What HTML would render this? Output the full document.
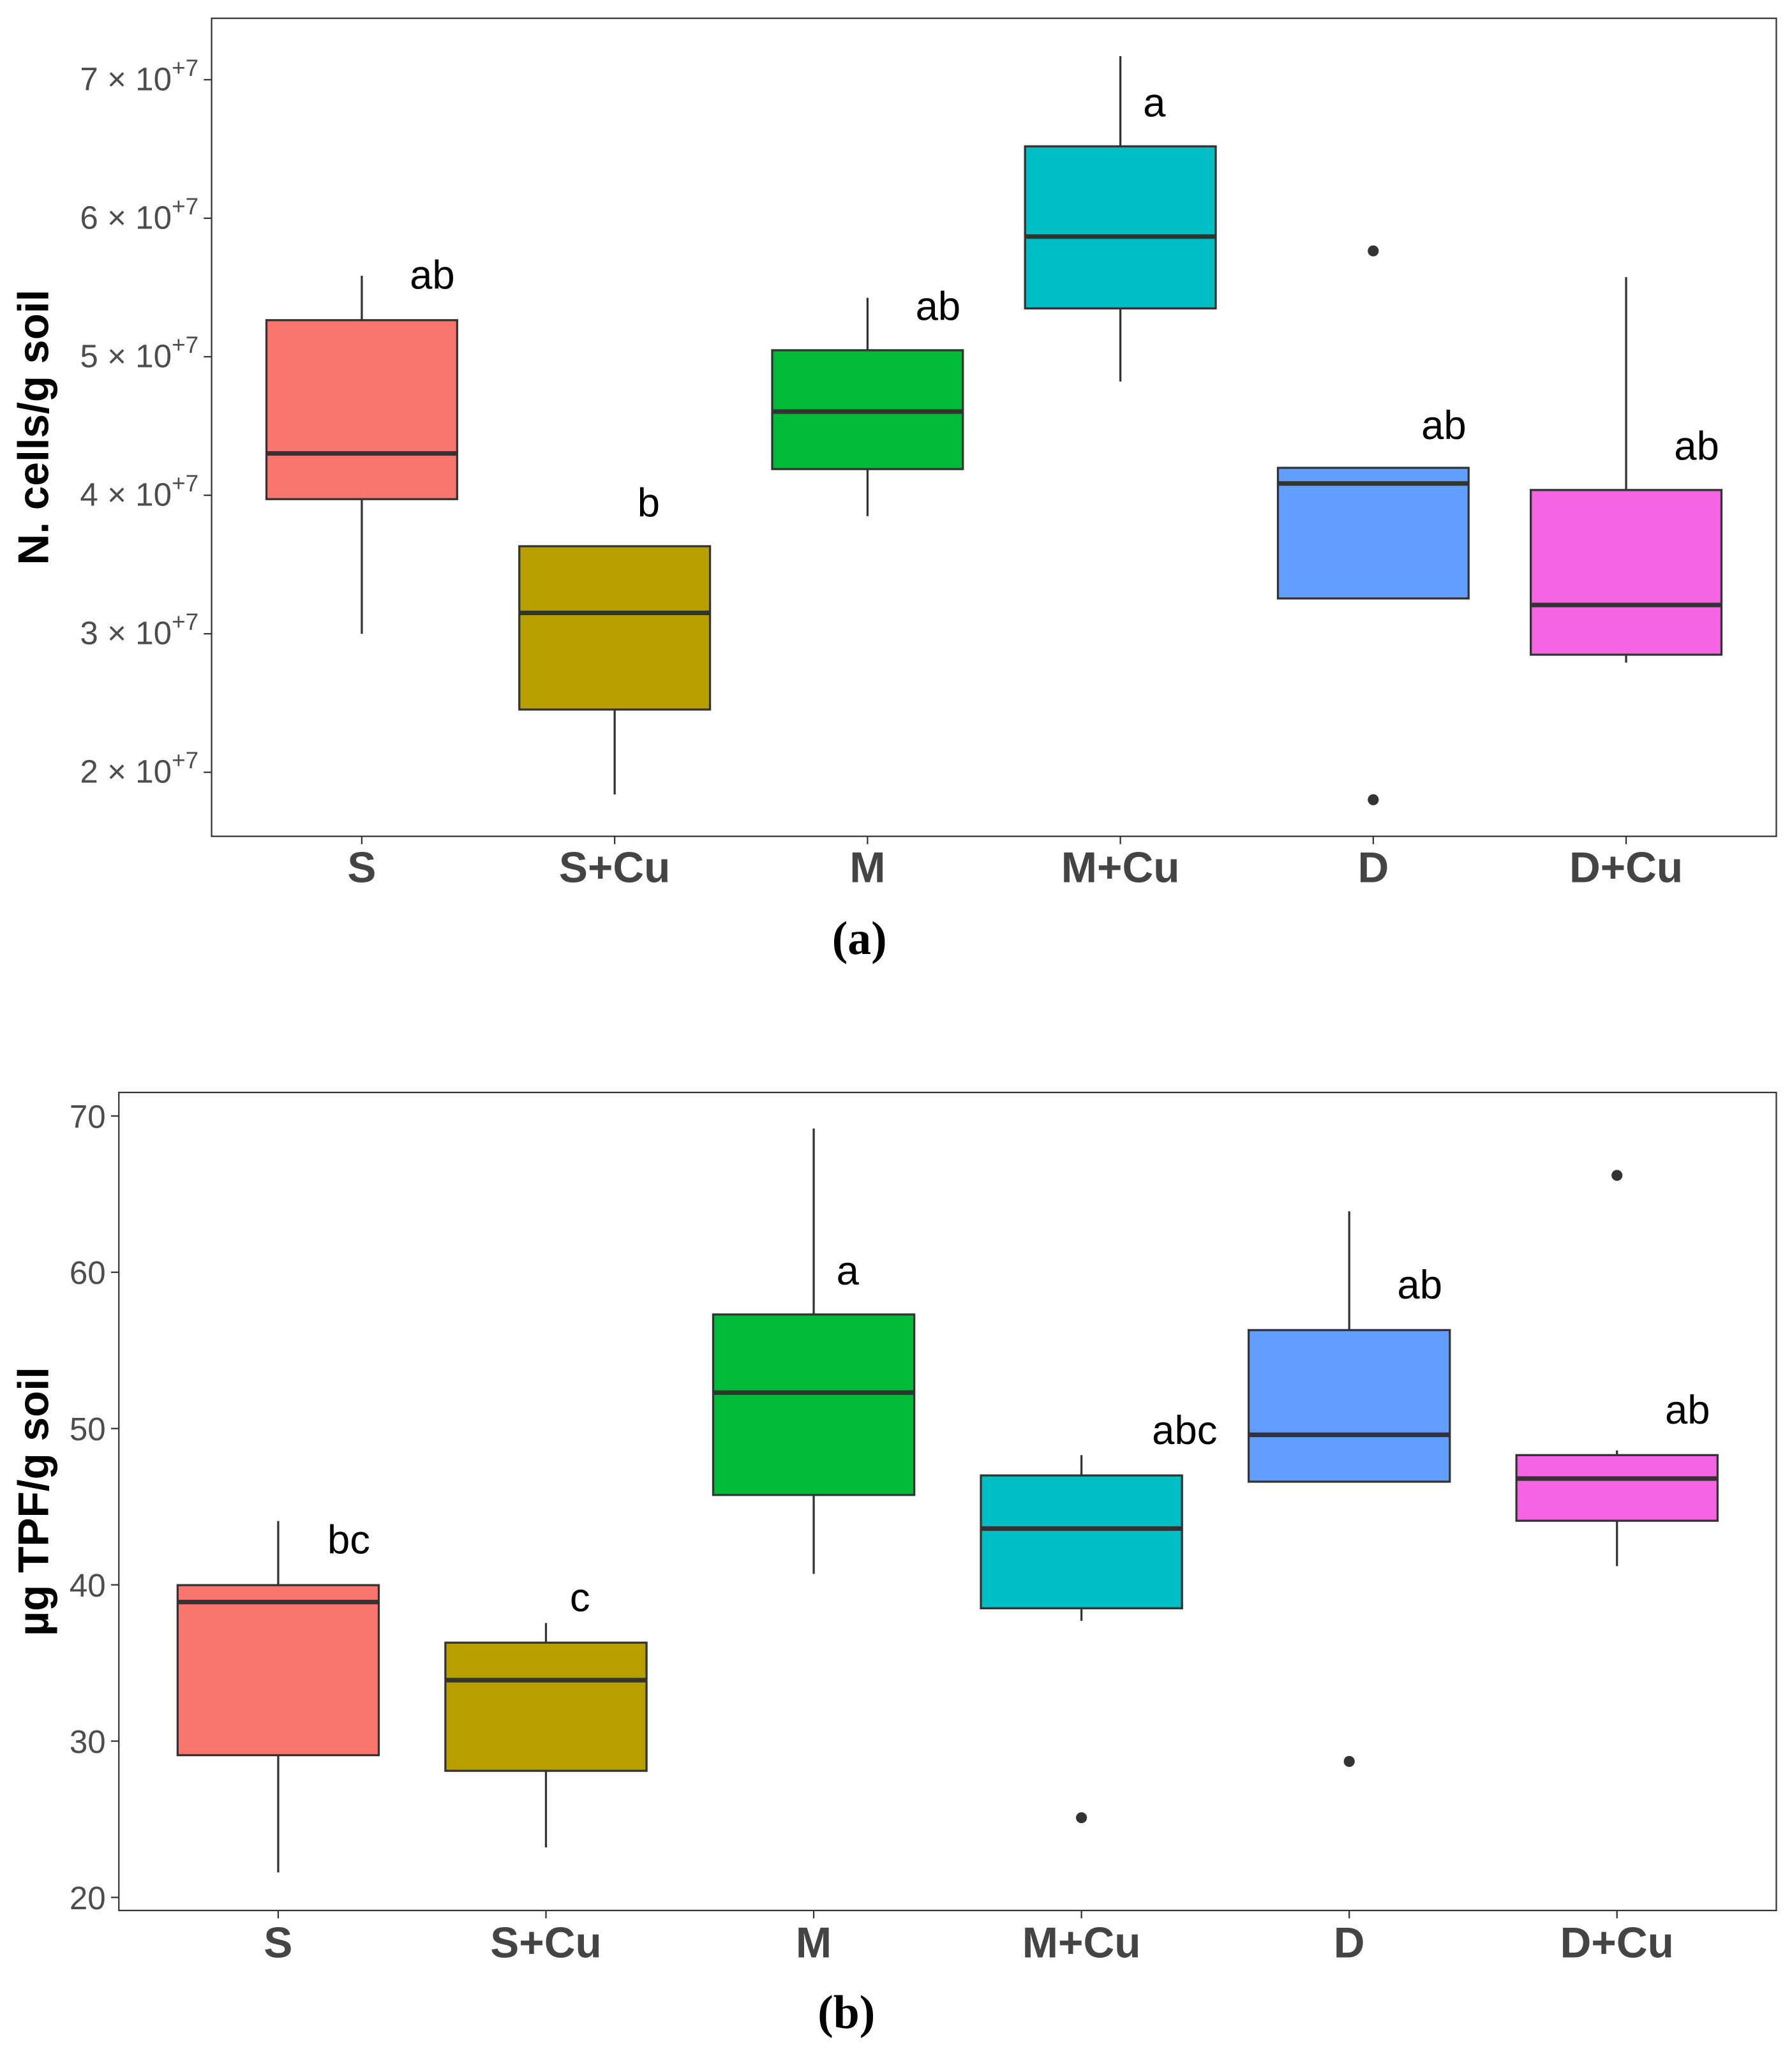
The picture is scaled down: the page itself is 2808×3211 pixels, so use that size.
<!DOCTYPE html>
<html><head><meta charset="utf-8"><style>
html,body{margin:0;padding:0;background:#fff}
svg{display:block}
text{font-family:"Liberation Sans",Arial,sans-serif}
</style></head><body>
<svg id="chart" width="2808" height="3211" viewBox="0 0 1372 1568" preserveAspectRatio="none" xmlns="http://www.w3.org/2000/svg">
<g id="pa"></g>
<g id="pb"></g>
<text x="658" y="730" text-anchor="middle" font-size="36" font-weight="bold" style="font-family:'Liberation Serif',serif">(a)</text>
<text x="648" y="1552" text-anchor="middle" font-size="36" font-weight="bold" style="font-family:'Liberation Serif',serif">(b)</text>
</svg>
<script>
const categories = ["S","S+Cu","M","M+Cu","D","D+Cu"];
const colors = ["#F8766D","#B79F00","#00BA38","#00BFC4","#619CFF","#F564E3"];
// Panel a (units of 1e7 cells/g)
const aWhiskerHigh = [5.585,3.632,5.425,7.17,4.198,5.575];
const aQ3 = [5.264,3.632,5.047,6.519,4.198,4.038];
const aMedian = [4.302,3.151,4.604,5.868,4.085,3.208];
const aQ1 = [3.972,2.453,4.189,5.349,3.255,2.849];
const aWhiskerLow = [3.0,1.84,3.849,4.821,3.255,2.792];
const aOutliers = [[],[],[],[],[5.764,1.802],[]];
const aLetters = ["ab","b","ab","a","ab","ab"];
const aLetterVals = [5.585,3.94,5.36,6.83,4.5,4.35];
const aTicks = [2,3,4,5,6,7];
// Panel b (µg TPF/g soil)
const bWhiskerHigh = [44.08,37.56,69.2,48.3,63.9,48.6];
const bQ3 = [39.98,36.3,57.3,47.0,56.3,48.3];
const bMedian = [38.9,33.9,52.3,43.6,49.6,46.8];
const bQ1 = [29.1,28.1,45.75,38.5,46.6,44.1];
const bWhiskerLow = [21.6,23.2,40.7,37.7,46.6,41.2];
const bOutliers = [[],[],[],[25.1],[28.7],[66.2]];
const bLetters = ["bc","c","a","abc","ab","ab"];
const bLetterVals = [42.85,39.15,60.05,49.85,59.15,51.15];
const bTicks = [20,30,40,50,60,70];

const NS="http://www.w3.org/2000/svg";
function mk(parent,tag,attrs,txt){const e=document.createElementNS(NS,tag);for(const k in attrs)e.setAttribute(k,attrs[k]);if(txt!==undefined)e.textContent=txt;parent.appendChild(e);return e;}
const letterDx={1:26,2:54,3:79};

function panel(g,cfg){
  const {x0,x1,y0,y1,yv0,yp0,yv1,yp1,centers,hw,wh,q3,med,q1,wl,outs,letters,lvals,ticks,tickFmt,title,titleX,catY}=cfg;
  const Y=v=>yp0+(v-yv0)*(yp1-yp0)/(yv1-yv0);
  const X=i=>centers[0]+i*(centers[1]-centers[0]);
  const fr=mk(g,'rect',{x:x0,y:y0,width:x1-x0,height:y1-y0,fill:'none',stroke:'#333','stroke-width':1.1});
  
  
  ticks.forEach(t=>{
    const y=Y(t);
    const tk=mk(g,'line',{x1:x0-6,x2:x0,y1:y,y2:y,stroke:'#333','stroke-width':1.1});
    
    
    const lb=tickFmt(g,t,x0-10,y+8);
    
    
  });
  const tt=mk(g,'text',{x:titleX,y:(y0+y1)/2,transform:`rotate(-90 ${titleX} ${(y0+y1)/2})`,'text-anchor':'middle','font-size':33,'font-weight':'bold',fill:'#000'},title);
  
  
  categories.forEach((c,i)=>{
    const cx=X(i);
    const tk=mk(g,'line',{x1:cx,x2:cx,y1:y1,y2:y1+6,stroke:'#333','stroke-width':1.1});
    
    
    const cl=mk(g,'text',{x:cx,y:catY,'text-anchor':'middle','font-size':33,'font-weight':'bold',fill:'#444'},c);
    
    
    const w1=mk(g,'line',{x1:cx,x2:cx,y1:Y(wh[i]),y2:Y(q3[i]),stroke:'#333','stroke-width':1.6});
    
    
    const w2=mk(g,'line',{x1:cx,x2:cx,y1:Y(q1[i]),y2:Y(wl[i]),stroke:'#333','stroke-width':1.6});
    
    
    const b=mk(g,'rect',{x:cx-hw,y:Y(q3[i]),width:2*hw,height:Y(q1[i])-Y(q3[i]),fill:colors[i],stroke:'#333','stroke-width':1.6});
    
    
    const m=mk(g,'line',{x1:cx-hw,x2:cx+hw,y1:Y(med[i]),y2:Y(med[i]),stroke:'#333','stroke-width':3.5});
    
    
    outs[i].forEach(o=>{
      const p=mk(g,'circle',{cx:cx,cy:Y(o),r:4.2,fill:'#333'});
      
      
    });
    const l=mk(g,'text',{x:cx+letterDx[letters[i].length],y:Y(lvals[i])+10,'text-anchor':'middle','font-size':31,fill:'#000'},letters[i]);
    
    
  });
}
function sciFmt(g,t,x,y){
  const e=mk(g,'text',{x:x,y:y,'text-anchor':'end','font-size':25,fill:'#4d4d4d'});
  mk(e,'tspan',{},t+' \u00d7 10');
  mk(e,'tspan',{dy:-11,'font-size':18},'+7');
  return e;
}
function numFmt(g,t,x,y){return mk(g,'text',{x:x,y:y+1,'text-anchor':'end','font-size':25,fill:'#4d4d4d'},String(t));}

panel(document.getElementById('pa'),{x0:162,x1:1360,y0:14,y1:640,yv0:7,yp0:61,yv1:2,yp1:591,
  centers:[277,470.6],hw:73,wh:aWhiskerHigh,q3:aQ3,med:aMedian,q1:aQ1,wl:aWhiskerLow,outs:aOutliers,
  letters:aLetters,lvals:aLetterVals,ticks:aTicks,tickFmt:sciFmt,title:'N. cells/g soil',titleX:37,catY:675});
panel(document.getElementById('pb'),{x0:91,x1:1360,y0:836,y1:1462,yv0:70,yp0:854,yv1:20,yp1:1452,
  centers:[213,418],hw:77,wh:bWhiskerHigh,q3:bQ3,med:bMedian,q1:bQ1,wl:bWhiskerLow,outs:bOutliers,
  letters:bLetters,lvals:bLetterVals,ticks:bTicks,tickFmt:numFmt,title:'\u00b5g TPF/g soil',titleX:37,catY:1498});
</script>
</body></html>
